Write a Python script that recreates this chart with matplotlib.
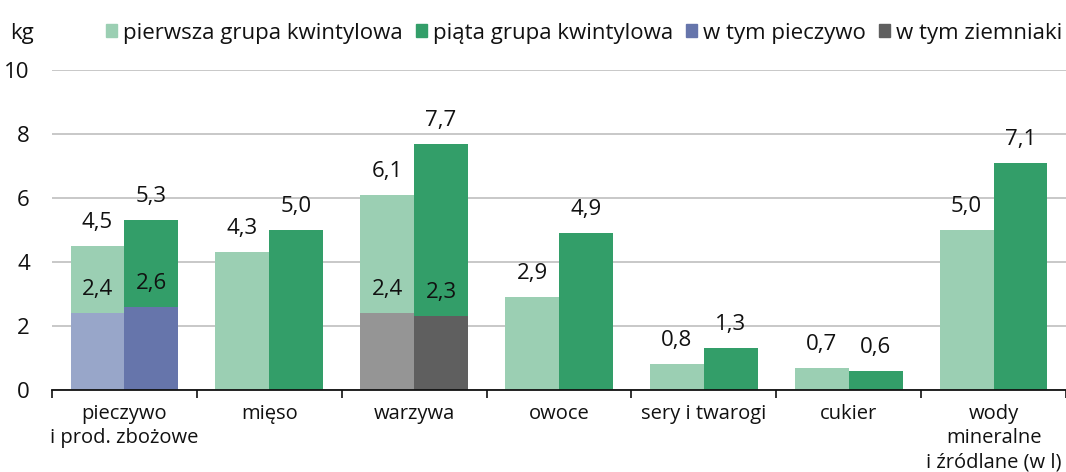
import numpy as np
import matplotlib
matplotlib.use('Agg')
import matplotlib.pyplot as plt
from matplotlib.patches import Patch

plt.rcParams['font.family'] = ['Open Sans', 'DejaVu Sans']

# Dane
kategorie = ['pieczywo\ni prod. zbożowe', 'mięso', 'warzywa', 'owoce',
             'sery i twarogi', 'cukier', 'wody\nmineralne\ni źródlane (w l)']
pierwsza = [4.5, 4.3, 6.1, 2.9, 0.8, 0.7, 5.0]
piata = [5.3, 5.0, 7.7, 4.9, 1.3, 0.6, 7.1]
pieczywo = [2.4, 2.6]      # pierwsza, piąta grupa - kategoria 0
ziemniaki = [2.4, 2.3]     # pierwsza, piąta grupa - kategoria 2

C_JASNY = '#9bcfb3'
C_CIEMNY = '#339e69'
C_PIECZ_1 = '#98a6c9'
C_PIECZ_5 = '#6675ab'
C_ZIEM_1 = '#959595'
C_ZIEM_5 = '#5f5f5f'
C_TEKST = '#111111'

FS = 16
FS_X = 14.5


def fmt(v):
    return f'{v:.1f}'.replace('.', ',')


def etykieta(ax, x, y):
    ax.annotate(fmt(y), (x, y), xytext=(0, 13), textcoords='offset points',
                ha='center', va='baseline', fontsize=FS, color=C_TEKST)


def rysuj():
    fig = plt.figure(figsize=(10.66, 4.72), dpi=100)
    ax = fig.add_axes([52 / 1066, 1 - 390 / 472, 1 - 52 / 1066, 320 / 472])

    x = np.arange(len(kategorie))
    w = 0.372

    ax.bar(x - w / 2, pierwsza, w, color=C_JASNY, zorder=2)
    ax.bar(x + w / 2, piata, w, color=C_CIEMNY, zorder=2)

    # części składowe
    ax.bar([x[0] - w / 2, x[0] + w / 2], pieczywo, w,
           color=[C_PIECZ_1, C_PIECZ_5], zorder=3)
    ax.bar([x[2] - w / 2, x[2] + w / 2], ziemniaki, w,
           color=[C_ZIEM_1, C_ZIEM_5], zorder=3)

    for i in range(len(kategorie)):
        etykieta(ax, x[i] - w / 2, pierwsza[i])
        etykieta(ax, x[i] + w / 2, piata[i])
    for j, v in enumerate(pieczywo):
        etykieta(ax, x[0] + (j - 0.5) * w, v)
    for j, v in enumerate(ziemniaki):
        etykieta(ax, x[2] + (j - 0.5) * w, v)

    ax.set_xlim(-0.5, len(kategorie) - 0.5)
    ax.set_ylim(0, 10)
    ax.set_yticks([0, 2, 4, 6, 8, 10])
    ax.tick_params(axis='y', length=0, pad=16, labelsize=FS, labelcolor=C_TEKST)
    ax.yaxis.grid(True, color='#c4c4c4', linewidth=1.3, zorder=0)
    ax.set_axisbelow(True)

    ax.set_xticks(x)
    ax.set_xticklabels(kategorie, fontsize=FS_X, linespacing=1.3, color=C_TEKST)
    ax.tick_params(axis='x', which='major', length=0, pad=10)
    ax.set_xticks(np.arange(-0.5, len(kategorie)), minor=True)
    ax.tick_params(axis='x', which='minor', length=6, width=1.2, color=C_TEKST)

    for s in ['top', 'right', 'left']:
        ax.spines[s].set_visible(False)
    ax.spines['bottom'].set_color(C_TEKST)
    ax.spines['bottom'].set_linewidth(1.3)
    ax.spines['bottom'].set_zorder(4)

    fig.text(10 / 1066, 1 - 33 / 472, 'kg', fontsize=FS, va='center', ha='left',
             color=C_TEKST)

    uchwyty = [Patch(color=C_JASNY), Patch(color=C_CIEMNY),
               Patch(color=C_PIECZ_5), Patch(color=C_ZIEM_5)]
    opisy = ['pierwsza grupa kwintylowa', 'piąta grupa kwintylowa',
             'w tym pieczywo', 'w tym ziemniaki']
    leg = fig.legend(uchwyty, opisy, loc='center right',
                     bbox_to_anchor=(1062 / 1066, 1 - 33 / 472),
                     ncol=4, frameon=False, fontsize=FS, handlelength=0.5,
                     handleheight=0.5, handletextpad=0.25, columnspacing=0.6,
                     borderaxespad=0, borderpad=0)
    for t in leg.get_texts():
        t.set_color(C_TEKST)

    fig.savefig('out.png', dpi=100)


if __name__ == '__main__':
    rysuj()
